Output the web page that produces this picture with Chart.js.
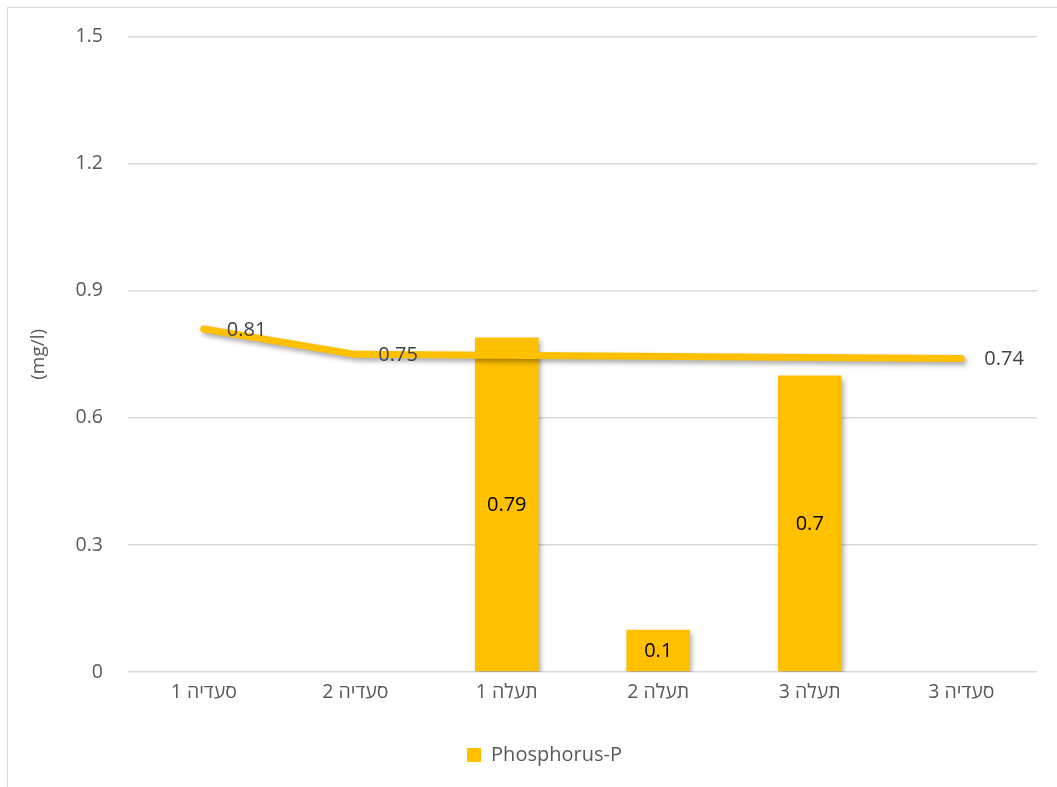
<!DOCTYPE html>
<html>
<head>
<meta charset="utf-8">
<script src="https://cdn.jsdelivr.net/npm/chart.js@4.4.1/dist/chart.umd.min.js"></script>
<style>
    html, body { margin: 0; padding: 0; overflow: hidden; background: #fff; }
    #frame {
        position: absolute; left: 7px; top: 7px; width: 1200px; height: 900px;
        border-left: 1.5px solid #d9d9d9; border-top: 1.5px solid #d9d9d9;
    }
    #chartP { position: absolute; left: 0; top: 0; }
</style>
</head>
<body>
<div id="frame"></div>
<canvas id="chartP" width="1057" height="787"></canvas>
<script>
// Data
const categories = ["סעדיה 1", "סעדיה 2", "תעלה 1", "תעלה 2", "תעלה 3", "סעדיה 3"];
const barValues = [null, null, 0.79, 0.1, 0.7, null];
const lineValues = [0.81, 0.75, null, null, null, 0.74];
const yTicks = [0, 0.3, 0.6, 0.9, 1.2, 1.5];

const FONT = "'Open Sans', 'Liberation Sans', 'DejaVu Sans', sans-serif";
const YELLOW = "#FFC000";

// soft drop shadow like the office chart
const shadowPlugin = {
    id: "shadow",
    beforeDatasetDraw: (chart, args) => {
        const ctx = chart.ctx;
        ctx.save();
        ctx.shadowColor = "rgba(0,0,0,0.35)";
        ctx.shadowBlur = 5;
        ctx.shadowOffsetX = 2;
        ctx.shadowOffsetY = 3;
    },
    afterDatasetDraw: (chart) => {
        chart.ctx.restore();
    },
};

// value labels
const labelPlugin = {
    id: "valueLabels",
    afterDatasetsDraw: (chart) => {
        const ctx = chart.ctx;
        ctx.save();
        ctx.font = "20px " + FONT;
        ctx.textBaseline = "middle";
        chart.data.datasets.forEach((ds, i) => {
            const meta = chart.getDatasetMeta(i);
            meta.data.forEach((el, j) => {
                const v = ds.data[j];
                if (v === null) return;
                if (ds.type === "line") {
                    ctx.fillStyle = "#404040";
                    ctx.textAlign = "left";
                    ctx.fillText(String(v), el.x + 23, el.y + 1);
                } else {
                    ctx.fillStyle = "#000000";
                    ctx.textAlign = "center";
                    ctx.fillText(String(v), el.x, (el.y + el.base) / 2 + 1);
                }
            });
        });
        ctx.restore();
    },
};

const config = {
    type: "bar",
    data: {
        labels: categories,
        datasets: [
            {
                type: "line",
                label: "line",
                data: lineValues,
                borderColor: YELLOW,
                borderWidth: 7,
                borderCapStyle: "round",
                borderJoinStyle: "round",
                pointRadius: 0,
                spanGaps: true,
                tension: 0,
            },
            {
                type: "bar",
                label: "Phosphorus-P",
                data: barValues,
                backgroundColor: YELLOW,
                borderWidth: 0,
                barPercentage: 0.42,
                categoryPercentage: 1,
            },
        ],
    },
    options: {
        responsive: false,
        animation: false,
        devicePixelRatio: 1,
        layout: { padding: { left: 52, right: 20, top: 36, bottom: 12 } },
        plugins: {
            tooltip: { enabled: false },
            legend: {
                position: "bottom",
                labels: {
                    filter: (item) => item.text === "Phosphorus-P",
                    boxWidth: 14,
                    boxHeight: 14,
                    color: "#595959",
                    font: { family: FONT, size: 20 },
                    padding: 8,
                },
            },
        },
        scales: {
            x: {
                grid: { display: false },
                border: { display: false },
                ticks: { color: "#595959", font: { family: FONT, size: 19.5 }, padding: 1 },
                afterFit: (scale) => { scale.height = 65; },
            },
            y: {
                min: 0,
                max: 1.5,
                afterBuildTicks: (scale) => { scale.ticks = yTicks.map((v) => ({ value: v })); },
                ticks: {
                    color: "#595959",
                    font: { family: FONT, size: 19.5 },
                    padding: 25,
                    callback: (v) => String(v),
                },
                grid: { color: "#d9d9d9", lineWidth: 1.5, drawTicks: false },
                border: { display: false },
                title: {
                    display: true,
                    text: "(mg/l)",
                    color: "#595959",
                    font: { family: FONT, size: 19 },
                    padding: { top: -25, bottom: 0 },
                },
                afterFit: (scale) => { scale.width = 76; },
            },
        },
    },
    plugins: [shadowPlugin, labelPlugin],
};

let ctx = document.getElementById("chartP");
let chartP = new Chart(ctx, config);
</script>
</body>
</html>
